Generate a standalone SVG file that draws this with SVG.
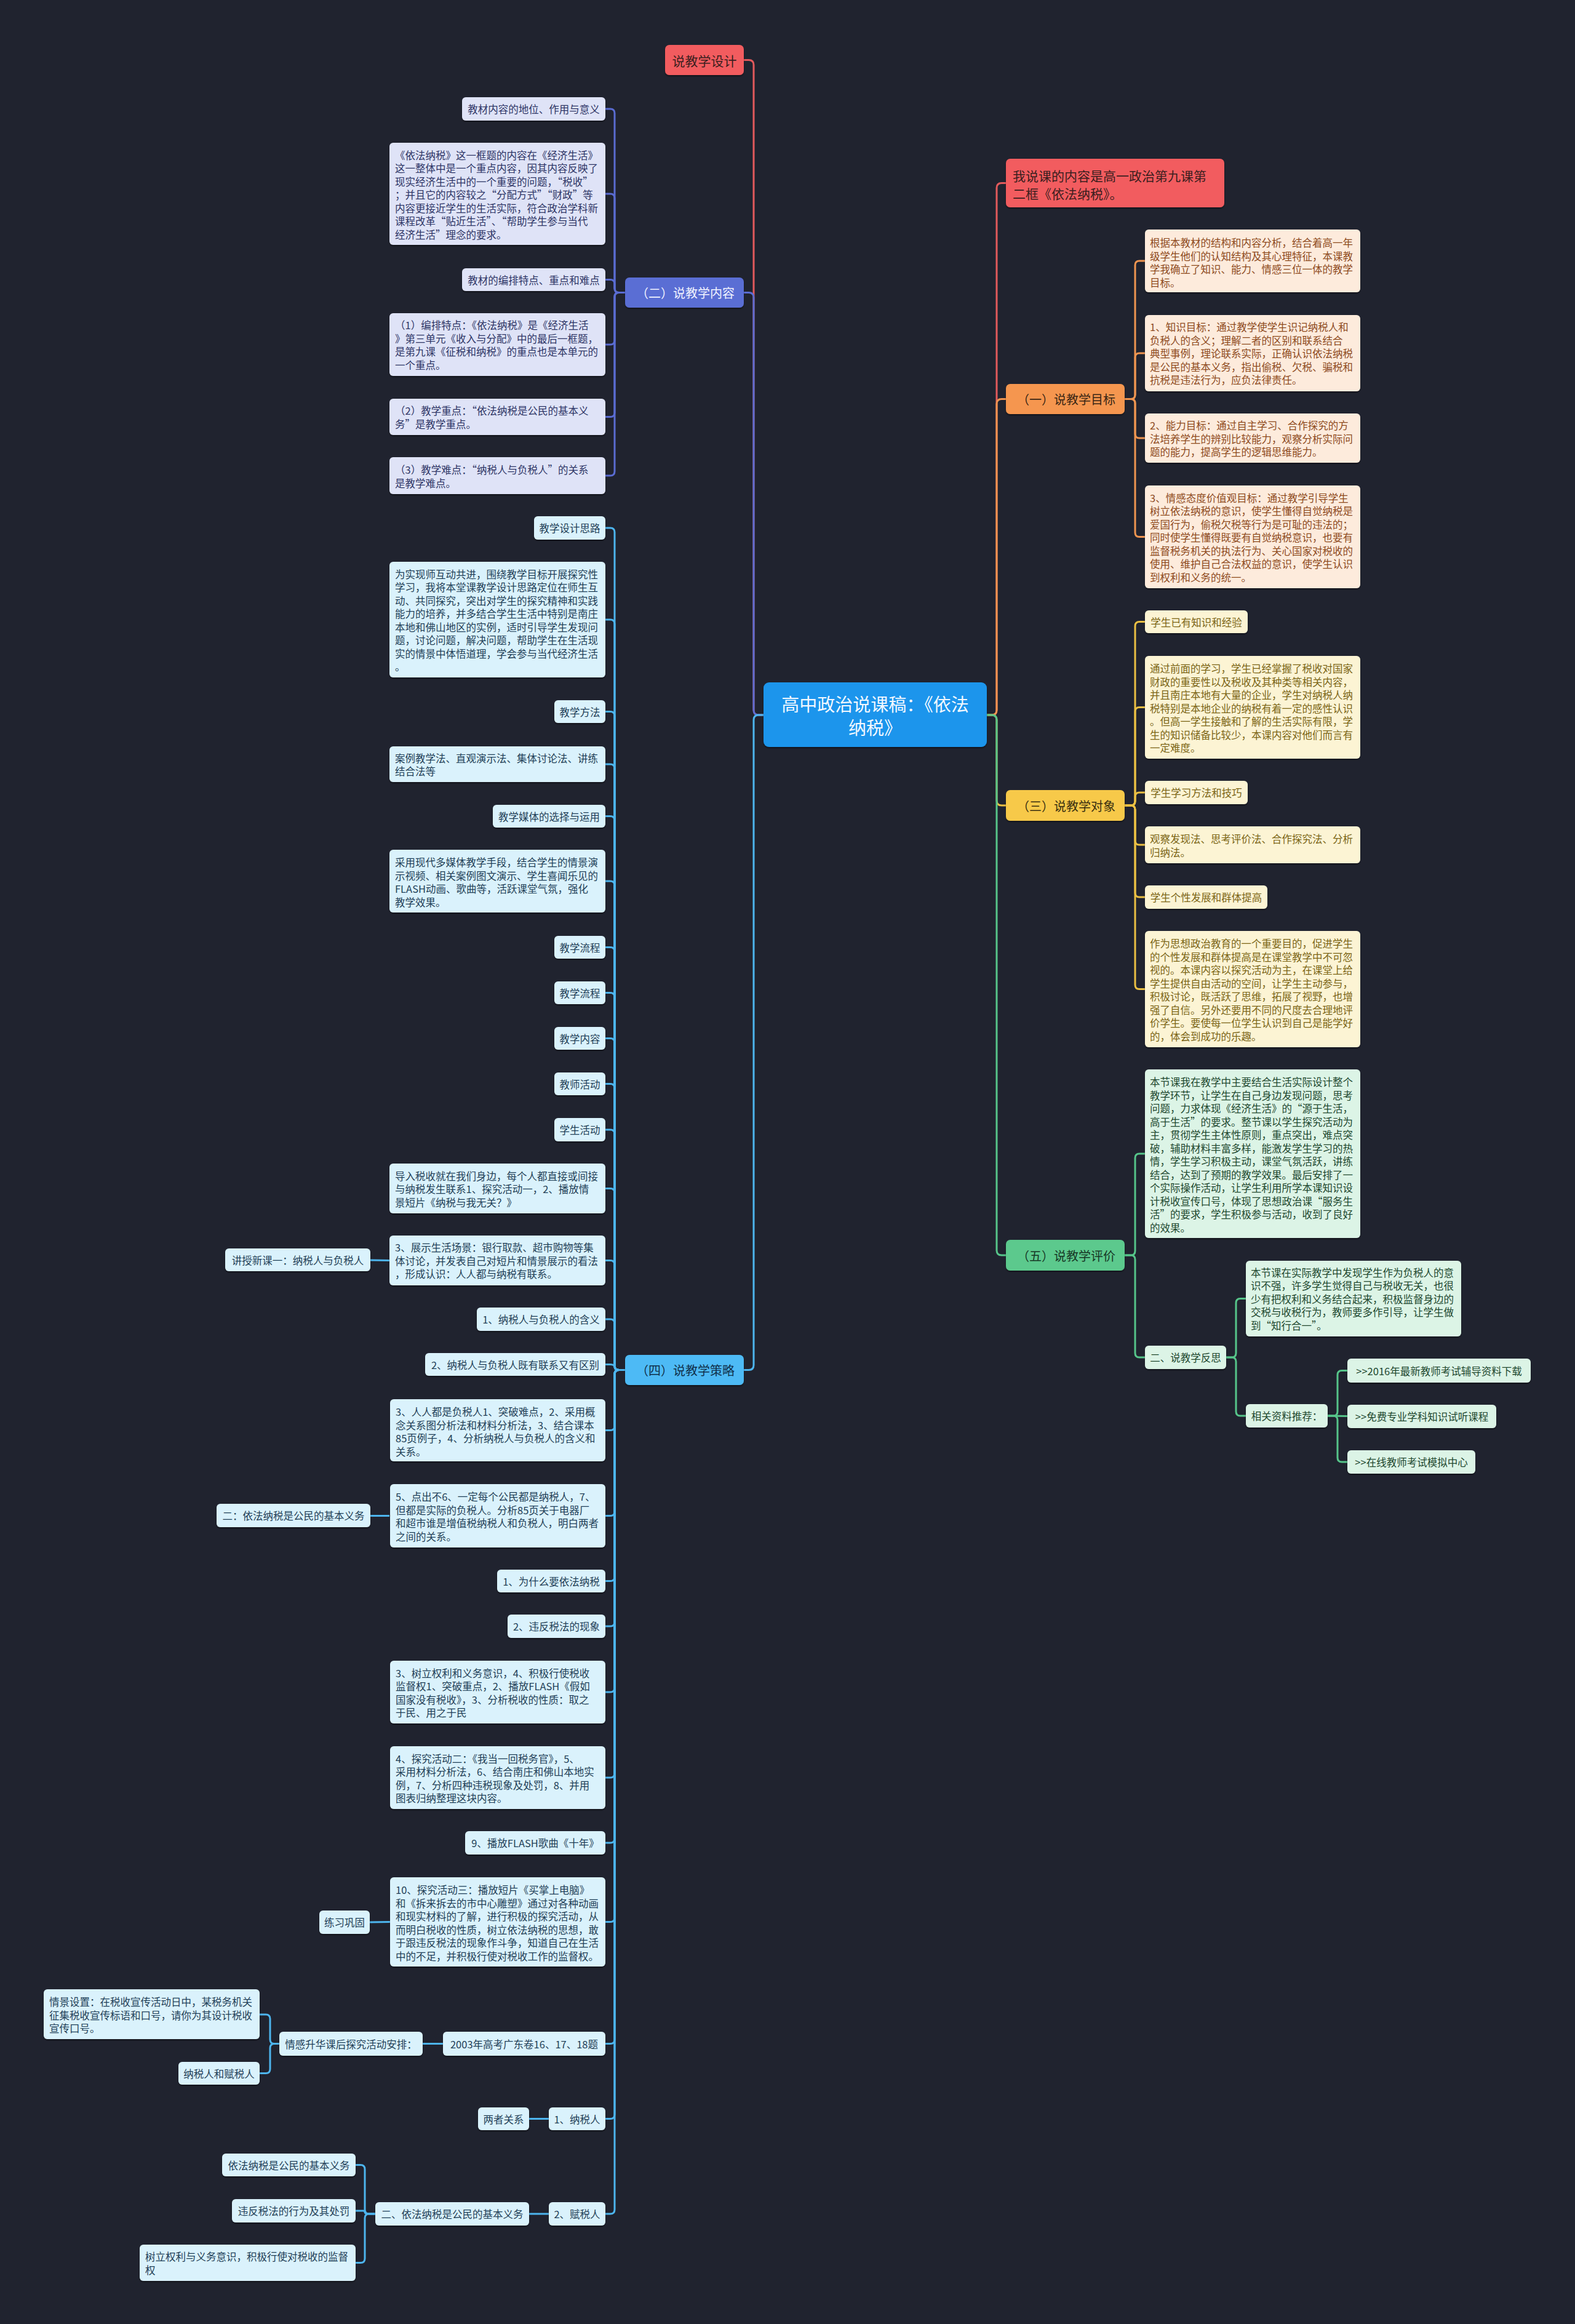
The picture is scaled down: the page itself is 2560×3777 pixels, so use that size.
<svg xmlns="http://www.w3.org/2000/svg" width="2560" height="3777" viewBox="0 0 2560 3777">
<defs>
<filter id="sh" x="-5%" y="-10%" width="110%" height="130%"><feDropShadow dx="0" dy="2" stdDeviation="1.2" flood-color="#000" flood-opacity="0.45"/></filter>
<style>
text{font-family:"Noto Sans CJK SC","Noto Sans",sans-serif;dominant-baseline:central}
.t{font-size:16.5px}
.mid{text-anchor:middle}
.m{font-size:20px;text-anchor:middle}
rect{filter:url(#sh)}
.np{fill:#DFE3F7}.tp{fill:#2E3566}
.nb{fill:#DAF2FC}.tb{fill:#1F3F57}
.no{fill:#FDEBDC}.to{fill:#8E4A1C}
.ny{fill:#FCF4D4}.ty{fill:#7B6514}
.ng{fill:#DCF4E6}.tg{fill:#21482F}
.con path{fill:none;stroke-width:3;stroke-linejoin:round}
.cr{stroke:#E35A5C}.cpu{stroke:#5A6CD2}.cb{stroke:#4DB5EE}.co{stroke:#F09550}.cy{stroke:#EBC043}.cg{stroke:#56C58A}
</style>
</defs>
<rect x="0" y="0" width="2560" height="3777" fill="#20232F" style="filter:none"/>

<g id="connectors" class="con">
<!-- main left -->
<path class="cr" d="M1241,1162 L1233,1162 Q1225,1162 1225,1154 L1225,105.5 Q1225,97.5 1217,97.5 L1209,97.5"/>
<path class="cpu" d="M1241,1162 L1233,1162 Q1225,1162 1225,1154 L1225,483.5 Q1225,475.5 1217,475.5 L1209,475.5"/>
<path class="cb" d="M1241,1162 L1233,1162 Q1225,1162 1225,1170 L1225,2218.5 Q1225,2226.5 1217,2226.5 L1209,2226.5"/>
<!-- main right -->
<path class="cr" d="M1604,1162 L1612,1162 Q1620,1162 1620,1154 L1620,305.5 Q1620,297.5 1628,297.5 L1635,297.5"/>
<path class="co" d="M1604,1162 L1612,1162 Q1620,1162 1620,1154 L1620,656.5 Q1620,648.5 1628,648.5 L1635,648.5"/>
<path class="cy" d="M1604,1162 L1612,1162 Q1620,1162 1620,1170 L1620,1301 Q1620,1309 1628,1309 L1635,1309"/>
<path class="cg" d="M1604,1162 L1612,1162 Q1620,1162 1620,1170 L1620,2032 Q1620,2040 1628,2040 L1635,2040"/>
<!-- purple -->
<path class="cpu" d="M1016,475.5 L1006,475.5 Q999,475.5 999,468.5 L999,184 Q999,177 992,177 L984,177"/>
<path class="cpu" d="M1016,475.5 L1006,475.5 Q999,475.5 999,468.5 L999,322 Q999,315 992,315 L984,315"/>
<path class="cpu" d="M1016,475.5 L1006,475.5 Q999,475.5 999,468.5 L999,461.5 Q999,454.5 992,454.5 L984,454.5"/>
<path class="cpu" d="M1016,475.5 L1006,475.5 Q999,475.5 999,482.5 L999,553 Q999,560 992,560 L984,560"/>
<path class="cpu" d="M1016,475.5 L1006,475.5 Q999,475.5 999,482.5 L999,670.5 Q999,677.5 992,677.5 L984,677.5"/>
<path class="cpu" d="M1016,475.5 L1006,475.5 Q999,475.5 999,482.5 L999,766 Q999,773 992,773 L984,773"/>
<!-- blue above -->
<path class="cb" d="M1016,2226.5 L1006,2226.5 Q999,2226.5 999,2219.5 L999,865 Q999,858 992,858 L984,858"/>
<path class="cb" d="M1016,2226.5 L1006,2226.5 Q999,2226.5 999,2219.5 L999,1014 Q999,1007 992,1007 L984,1007"/>
<path class="cb" d="M1016,2226.5 L1006,2226.5 Q999,2226.5 999,2219.5 L999,1163.5 Q999,1156.5 992,1156.5 L984,1156.5"/>
<path class="cb" d="M1016,2226.5 L1006,2226.5 Q999,2226.5 999,2219.5 L999,1249 Q999,1242 992,1242 L984,1242"/>
<path class="cb" d="M1016,2226.5 L1006,2226.5 Q999,2226.5 999,2219.5 L999,1333.5 Q999,1326.5 992,1326.5 L984,1326.5"/>
<path class="cb" d="M1016,2226.5 L1006,2226.5 Q999,2226.5 999,2219.5 L999,1439 Q999,1432 992,1432 L984,1432"/>
<path class="cb" d="M1016,2226.5 L1006,2226.5 Q999,2226.5 999,2219.5 L999,1546.5 Q999,1539.5 992,1539.5 L984,1539.5"/>
<path class="cb" d="M1016,2226.5 L1006,2226.5 Q999,2226.5 999,2219.5 L999,1620.5 Q999,1613.5 992,1613.5 L984,1613.5"/>
<path class="cb" d="M1016,2226.5 L1006,2226.5 Q999,2226.5 999,2219.5 L999,1694.5 Q999,1687.5 992,1687.5 L984,1687.5"/>
<path class="cb" d="M1016,2226.5 L1006,2226.5 Q999,2226.5 999,2219.5 L999,1768.5 Q999,1761.5 992,1761.5 L984,1761.5"/>
<path class="cb" d="M1016,2226.5 L1006,2226.5 Q999,2226.5 999,2219.5 L999,1843 Q999,1836 992,1836 L984,1836"/>
<path class="cb" d="M1016,2226.5 L1006,2226.5 Q999,2226.5 999,2219.5 L999,1938.5 Q999,1931.5 992,1931.5 L984,1931.5"/>
<path class="cb" d="M1016,2226.5 L1006,2226.5 Q999,2226.5 999,2219.5 L999,2055.5 Q999,2048.5 992,2048.5 L984,2048.5"/>
<path class="cb" d="M1016,2226.5 L1006,2226.5 Q999,2226.5 999,2219.5 L999,2151 Q999,2144 992,2144 L984,2144"/>
<path class="cb" d="M1016,2226.5 L1006,2226.5 Q999,2226.5 999,2222 Q999,2217.5 992,2217.5 L984,2217.5"/>
<!-- blue below -->
<path class="cb" d="M1016,2226.5 L1006,2226.5 Q999,2226.5 999,2233.5 L999,2317.5 Q999,2324.5 992,2324.5 L984,2324.5"/>
<path class="cb" d="M1016,2226.5 L1006,2226.5 Q999,2226.5 999,2233.5 L999,2456.5 Q999,2463.5 992,2463.5 L984,2463.5"/>
<path class="cb" d="M1016,2226.5 L1006,2226.5 Q999,2226.5 999,2233.5 L999,2562.5 Q999,2569.5 992,2569.5 L984,2569.5"/>
<path class="cb" d="M1016,2226.5 L1006,2226.5 Q999,2226.5 999,2233.5 L999,2636 Q999,2643 992,2643 L984,2643"/>
<path class="cb" d="M1016,2226.5 L1006,2226.5 Q999,2226.5 999,2233.5 L999,2743 Q999,2750 992,2750 L984,2750"/>
<path class="cb" d="M1016,2226.5 L1006,2226.5 Q999,2226.5 999,2233.5 L999,2882 Q999,2889 992,2889 L984,2889"/>
<path class="cb" d="M1016,2226.5 L1006,2226.5 Q999,2226.5 999,2233.5 L999,2988 Q999,2995 992,2995 L984,2995"/>
<path class="cb" d="M1016,2226.5 L1006,2226.5 Q999,2226.5 999,2233.5 L999,3116.5 Q999,3123.5 992,3123.5 L984,3123.5"/>
<path class="cb" d="M1016,2226.5 L1006,2226.5 Q999,2226.5 999,2233.5 L999,3314.5 Q999,3321.5 992,3321.5 L984,3321.5"/>
<path class="cb" d="M1016,2226.5 L1006,2226.5 Q999,2226.5 999,2233.5 L999,3436.5 Q999,3443.5 992,3443.5 L984,3443.5"/>
<path class="cb" d="M1016,2226.5 L1006,2226.5 Q999,2226.5 999,2233.5 L999,3591 Q999,3598 992,3598 L984,3598"/>
<!-- blue deeper -->
<path class="cb" d="M633,2048.5 L602,2048"/>
<path class="cb" d="M633,2463.5 L602,2463.5"/>
<path class="cb" d="M634,3123.5 L601,3124"/>
<path class="cb" d="M720,3321.5 L687,3321.5"/>
<path class="cb" d="M454,3321.5 L446,3321.5 Q439,3321.5 439,3314.5 L439,3281 Q439,3274 432,3274 L422,3274"/>
<path class="cb" d="M454,3321.5 L446,3321.5 Q439,3321.5 439,3328.5 L439,3362.5 Q439,3369.5 432,3369.5 L422,3369.5"/>
<path class="cb" d="M892,3443.5 L860,3443.5"/>
<path class="cb" d="M892,3598 L860,3598"/>
<path class="cb" d="M610,3598 L600,3598 Q593,3598 593,3591 L593,3525.5 Q593,3518.5 586,3518.5 L578,3518.5"/>
<path class="cb" d="M610,3598 L600,3598 Q593,3598 593,3595.5 Q593,3593 590.5,3593 L578,3593"/>
<path class="cb" d="M610,3598 L600,3598 Q593,3598 593,3605 L593,3670.5 Q593,3677.5 586,3677.5 L578,3677.5"/>
<!-- orange -->
<path class="co" d="M1828,648.5 L1838,648.5 Q1845,648.5 1845,641.5 L1845,431 Q1845,424 1852,424 L1861,424"/>
<path class="co" d="M1828,648.5 L1838,648.5 Q1845,648.5 1845,641.5 L1845,581 Q1845,574 1852,574 L1861,574"/>
<path class="co" d="M1828,648.5 L1838,648.5 Q1845,648.5 1845,655.5 L1845,705 Q1845,712 1852,712 L1861,712"/>
<path class="co" d="M1828,648.5 L1838,648.5 Q1845,648.5 1845,655.5 L1845,865.5 Q1845,872.5 1852,872.5 L1861,872.5"/>
<!-- yellow -->
<path class="cy" d="M1828,1309 L1838,1309 Q1845,1309 1845,1302 L1845,1017.5 Q1845,1010.5 1852,1010.5 L1861,1010.5"/>
<path class="cy" d="M1828,1309 L1838,1309 Q1845,1309 1845,1302 L1845,1156.5 Q1845,1149.5 1852,1149.5 L1861,1149.5"/>
<path class="cy" d="M1828,1309 L1838,1309 Q1845,1309 1845,1302 L1845,1295 Q1845,1288 1852,1288 L1861,1288"/>
<path class="cy" d="M1828,1309 L1838,1309 Q1845,1309 1845,1316 L1845,1366 Q1845,1373 1852,1373 L1861,1373"/>
<path class="cy" d="M1828,1309 L1838,1309 Q1845,1309 1845,1316 L1845,1451 Q1845,1458 1852,1458 L1861,1458"/>
<path class="cy" d="M1828,1309 L1838,1309 Q1845,1309 1845,1316 L1845,1600.5 Q1845,1607.5 1852,1607.5 L1861,1607.5"/>
<!-- green -->
<path class="cg" d="M1828,2040 L1838,2040 Q1845,2040 1845,2033 L1845,1882 Q1845,1875 1852,1875 L1861,1875"/>
<path class="cg" d="M1828,2040 L1838,2040 Q1845,2040 1845,2047 L1845,2199 Q1845,2206 1852,2206 L1861,2206"/>
<path class="cg" d="M1993,2206 L2002,2206 Q2009,2206 2009,2199 L2009,2117.5 Q2009,2110.5 2016,2110.5 L2025,2110.5"/>
<path class="cg" d="M1993,2206 L2002,2206 Q2009,2206 2009,2213 L2009,2294 Q2009,2301 2016,2301 L2025,2301"/>
<path class="cg" d="M2158,2301 L2167,2301 Q2174,2301 2174,2294 L2174,2234.5 Q2174,2227.5 2181,2227.5 L2190,2227.5"/>
<path class="cg" d="M2158,2301 L2190,2301.5"/>
<path class="cg" d="M2158,2301 L2167,2301 Q2174,2301 2174,2308 L2174,2369 Q2174,2376 2181,2376 L2190,2376"/>
</g>

<g id="center">
<rect x="1241" y="1109" width="363" height="105" rx="9" fill="#1C95EC"/>
<text x="1422.5" y="1143" class="mid" font-size="29" fill="#F2F8FF">高中政治说课稿：《依法</text>
<text x="1422.5" y="1180.5" class="mid" font-size="29" fill="#F2F8FF">纳税》</text>
</g>

<!-- left main nodes -->
<g id="n-design">
<rect x="1081" y="73" width="128" height="49" rx="7" fill="#F25C5E"/>
<text x="1145" y="97.5" class="mid" font-size="21" fill="#3B1E1E">说教学设计</text>
</g>
<g id="n-content">
<rect x="1016" y="451" width="193" height="49" rx="7" fill="#5A6ED4"/>
<text x="1114" y="475.5" class="m" fill="#F0F2FF">（二）说教学内容</text>
</g>
<g id="n-strategy">
<rect x="1016" y="2202" width="193" height="49" rx="7" fill="#4DBAF5"/>
<text x="1114" y="2226.5" class="m" fill="#10304A">（四）说教学策略</text>
</g>

<!-- purple leaves -->
<g id="p1"><rect x="751" y="158" width="233" height="38" rx="6" class="np"/><text x="867.5" y="177" class="t tp mid">教材内容的地位、作用与意义</text></g>
<g id="p2"><rect x="633" y="232" width="351" height="166" rx="6" class="np"/><text class="t tp"><tspan x="642" y="251.5">《依法纳税》这一框题的内容在《经济生活》</tspan><tspan x="642" y="273">这一整体中是一个重点内容，因其内容反映了</tspan><tspan x="642" y="294.5">现实经济生活中的一个重要的问题，“税收”</tspan><tspan x="642" y="316">；并且它的内容较之“分配方式”“财政”等</tspan><tspan x="642" y="337.5">内容更接近学生的生活实际，符合政治学科新</tspan><tspan x="642" y="359">课程改革“贴近生活”、“帮助学生参与当代</tspan><tspan x="642" y="380.5">经济生活”理念的要求。</tspan></text></g>
<g id="p3"><rect x="751" y="436" width="233" height="37" rx="6" class="np"/><text x="867.5" y="454.5" class="t tp mid">教材的编排特点、重点和难点</text></g>
<g id="p4"><rect x="633" y="509" width="351" height="102" rx="6" class="np"/><text class="t tp"><tspan x="642" y="528">（1）编排特点：《依法纳税》是《经济生活</tspan><tspan x="642" y="549.5">》第三单元《收入与分配》中的最后一框题，</tspan><tspan x="642" y="571">是第九课《征税和纳税》的重点也是本单元的</tspan><tspan x="642" y="592.5">一个重点。</tspan></text></g>
<g id="p5"><rect x="633" y="648" width="351" height="59" rx="6" class="np"/><text class="t tp"><tspan x="642" y="667">（2）教学重点：“依法纳税是公民的基本义</tspan><tspan x="642" y="688.5">务”是教学重点。</tspan></text></g>
<g id="p6"><rect x="633" y="743" width="351" height="60" rx="6" class="np"/><text class="t tp"><tspan x="642" y="763">（3）教学难点：“纳税人与负税人”的关系</tspan><tspan x="642" y="784.5">是教学难点。</tspan></text></g>

<!-- blue leaves -->
<g id="b1"><rect x="868" y="839" width="116" height="38" rx="6" class="nb"/><text x="926" y="858" class="t tb mid">教学设计思路</text></g>
<g id="b2"><rect x="633" y="913" width="351" height="188" rx="6" class="nb"/><text class="t tb"><tspan x="642" y="932.5">为实现师互动共进，围绕教学目标开展探究性</tspan><tspan x="642" y="954">学习，我将本堂课教学设计思路定位在师生互</tspan><tspan x="642" y="975.5">动、共同探究，突出对学生的探究精神和实践</tspan><tspan x="642" y="997">能力的培养，并多结合学生生活中特别是南庄</tspan><tspan x="642" y="1018.5">本地和佛山地区的实例，适时引导学生发现问</tspan><tspan x="642" y="1040">题，讨论问题，解决问题，帮助学生在生活现</tspan><tspan x="642" y="1061.5">实的情景中体悟道理，学会参与当代经济生活</tspan><tspan x="642" y="1083">。</tspan></text></g>
<g id="b3"><rect x="901" y="1138" width="83" height="37" rx="6" class="nb"/><text x="942.5" y="1156.5" class="t tb mid">教学方法</text></g>
<g id="b4"><rect x="633" y="1213" width="351" height="58" rx="6" class="nb"/><text class="t tb"><tspan x="642" y="1232">案例教学法、直观演示法、集体讨论法、讲练</tspan><tspan x="642" y="1253">结合法等</tspan></text></g>
<g id="b5"><rect x="801" y="1308" width="183" height="37" rx="6" class="nb"/><text x="892.5" y="1326.5" class="t tb mid">教学媒体的选择与运用</text></g>
<g id="b6"><rect x="633" y="1381" width="351" height="102" rx="6" class="nb"/><text class="t tb"><tspan x="642" y="1401">采用现代多媒体教学手段，结合学生的情景演</tspan><tspan x="642" y="1422.5">示视频、相关案例图文演示、学生喜闻乐见的</tspan><tspan x="642" y="1444">FLASH动画、歌曲等，活跃课堂气氛，强化</tspan><tspan x="642" y="1465.5">教学效果。</tspan></text></g>
<g id="b7"><rect x="901" y="1521" width="83" height="37" rx="6" class="nb"/><text x="942.5" y="1539.5" class="t tb mid">教学流程</text></g>
<g id="b8"><rect x="901" y="1595" width="83" height="37" rx="6" class="nb"/><text x="942.5" y="1613.5" class="t tb mid">教学流程</text></g>
<g id="b9"><rect x="901" y="1669" width="83" height="37" rx="6" class="nb"/><text x="942.5" y="1687.5" class="t tb mid">教学内容</text></g>
<g id="b10"><rect x="901" y="1743" width="83" height="37" rx="6" class="nb"/><text x="942.5" y="1761.5" class="t tb mid">教师活动</text></g>
<g id="b11"><rect x="901" y="1817" width="83" height="38" rx="6" class="nb"/><text x="942.5" y="1836" class="t tb mid">学生活动</text></g>
<g id="b12"><rect x="633" y="1891" width="351" height="81" rx="6" class="nb"/><text class="t tb"><tspan x="642" y="1910.5">导入税收就在我们身边，每个人都直接或间接</tspan><tspan x="642" y="1932">与纳税发生联系1、探究活动一，2、播放情</tspan><tspan x="642" y="1953.5">景短片《纳税与我无关？》</tspan></text></g>
<g id="b13"><rect x="633" y="2008" width="351" height="81" rx="6" class="nb"/><text class="t tb"><tspan x="642" y="2027">3、展示生活场景：银行取款、超市购物等集</tspan><tspan x="642" y="2048.5">体讨论，并发表自己对短片和情景展示的看法</tspan><tspan x="642" y="2070">，形成认识：人人都与纳税有联系。</tspan></text></g>
<g id="b13a"><rect x="366" y="2029" width="236" height="37" rx="6" class="nb"/><text x="484" y="2047.5" class="t tb mid">讲授新课一：纳税人与负税人</text></g>
<g id="b14"><rect x="775" y="2125" width="209" height="38" rx="6" class="nb"/><text x="879.5" y="2144" class="t tb mid">1、纳税人与负税人的含义</text></g>
<g id="b15"><rect x="691" y="2199" width="293" height="37" rx="6" class="nb"/><text x="837.5" y="2217.5" class="t tb mid">2、纳税人与负税人既有联系又有区别</text></g>
<g id="b16"><rect x="634" y="2274" width="350" height="101" rx="6" class="nb"/><text class="t tb"><tspan x="643" y="2294">3、人人都是负税人1、突破难点，2、采用概</tspan><tspan x="643" y="2315.5">念关系图分析法和材料分析法，3、结合课本</tspan><tspan x="643" y="2337">85页例子，4、分析纳税人与负税人的含义和</tspan><tspan x="643" y="2358.5">关系。</tspan></text></g>
<g id="b17"><rect x="634" y="2412" width="350" height="103" rx="6" class="nb"/><text class="t tb"><tspan x="643" y="2432">5、点出不6、一定每个公民都是纳税人，7、</tspan><tspan x="643" y="2453.5">但都是实际的负税人。分析85页关于电器厂</tspan><tspan x="643" y="2475">和超市谁是增值税纳税人和负税人，明白两者</tspan><tspan x="643" y="2496.5">之间的关系。</tspan></text></g>
<g id="b17a"><rect x="352" y="2444" width="250" height="38" rx="6" class="nb"/><text x="477" y="2463" class="t tb mid">二：依法纳税是公民的基本义务</text></g>
<g id="b18"><rect x="808" y="2551" width="176" height="37" rx="6" class="nb"/><text x="896" y="2569.5" class="t tb mid">1、为什么要依法纳税</text></g>
<g id="b19"><rect x="825" y="2624" width="159" height="38" rx="6" class="nb"/><text x="904.5" y="2643" class="t tb mid">2、违反税法的现象</text></g>
<g id="b20"><rect x="634" y="2699" width="350" height="102" rx="6" class="nb"/><text class="t tb"><tspan x="643" y="2718.5">3、树立权利和义务意识，4、积极行使税收</tspan><tspan x="643" y="2740">监督权1、突破重点，2、播放FLASH《假如</tspan><tspan x="643" y="2761.5">国家没有税收》，3、分析税收的性质：取之</tspan><tspan x="643" y="2783">于民、用之于民</tspan></text></g>
<g id="b21"><rect x="634" y="2838" width="350" height="102" rx="6" class="nb"/><text class="t tb"><tspan x="643" y="2857.5">4、探究活动二：《我当一回税务官》，5、</tspan><tspan x="643" y="2879">采用材料分析法，6、结合南庄和佛山本地实</tspan><tspan x="643" y="2900.5">例，7、分析四种违税现象及处罚，8、并用</tspan><tspan x="643" y="2922">图表归纳整理这块内容。</tspan></text></g>
<g id="b22"><rect x="756" y="2976" width="228" height="38" rx="6" class="nb"/><text x="870" y="2995" class="t tb mid">9、播放FLASH歌曲《十年》</text></g>
<g id="b23"><rect x="634" y="3051" width="350" height="145" rx="6" class="nb"/><text class="t tb"><tspan x="643" y="3071">10、探究活动三：播放短片《买掌上电脑》</tspan><tspan x="643" y="3092.5">和《拆来拆去的市中心雕塑》通过对各种动画</tspan><tspan x="643" y="3114">和现实材料的了解，进行积极的探究活动，从</tspan><tspan x="643" y="3135.5">而明白税收的性质，树立依法纳税的思想，敢</tspan><tspan x="643" y="3157">于跟违反税法的现象作斗争，知道自己在生活</tspan><tspan x="643" y="3178.5">中的不足，并积极行使对税收工作的监督权。</tspan></text></g>
<g id="b23a"><rect x="519" y="3105" width="82" height="38" rx="6" class="nb"/><text x="560" y="3124" class="t tb mid">练习巩固</text></g>
<g id="b24"><rect x="720" y="3302" width="264" height="39" rx="6" class="nb"/><text x="852" y="3321.5" class="t tb mid">2003年高考广东卷16、17、18题</text></g>
<g id="b24a"><rect x="454" y="3302" width="233" height="39" rx="6" class="nb"/><text x="570.5" y="3321.5" class="t tb mid">情感升华课后探究活动安排：</text></g>
<g id="b24b"><rect x="71" y="3233" width="351" height="81" rx="6" class="nb"/><text class="t tb"><tspan x="80" y="3253">情景设置：在税收宣传活动日中，某税务机关</tspan><tspan x="80" y="3274.5">征集税收宣传标语和口号，请你为其设计税收</tspan><tspan x="80" y="3296">宣传口号。</tspan></text></g>
<g id="b24c"><rect x="290" y="3351" width="132" height="37" rx="6" class="nb"/><text x="356" y="3369.5" class="t tb mid">纳税人和赋税人</text></g>
<g id="b25"><rect x="892" y="3425" width="92" height="37" rx="6" class="nb"/><text x="938" y="3443.5" class="t tb mid">1、纳税人</text></g>
<g id="b25a"><rect x="777" y="3425" width="83" height="37" rx="6" class="nb"/><text x="818.5" y="3443.5" class="t tb mid">两者关系</text></g>
<g id="b26"><rect x="892" y="3579" width="92" height="38" rx="6" class="nb"/><text x="938" y="3598" class="t tb mid">2、赋税人</text></g>
<g id="b26a"><rect x="610" y="3579" width="250" height="38" rx="6" class="nb"/><text x="735" y="3598" class="t tb mid">二、依法纳税是公民的基本义务</text></g>
<g id="b26b"><rect x="361" y="3500" width="217" height="37" rx="6" class="nb"/><text x="469.5" y="3518.5" class="t tb mid">依法纳税是公民的基本义务</text></g>
<g id="b26c"><rect x="377" y="3574" width="201" height="38" rx="6" class="nb"/><text x="477.5" y="3593" class="t tb mid">违反税法的行为及其处罚</text></g>
<g id="b26d"><rect x="227" y="3648" width="351" height="59" rx="6" class="nb"/><text class="t tb"><tspan x="236" y="3667">树立权利与义务意识，积极行使对税收的监督</tspan><tspan x="236" y="3688.5">权</tspan></text></g>

<!-- right main nodes -->
<g id="n-intro">
<rect x="1635" y="258" width="355" height="79" rx="7" fill="#F25C5E"/>
<text font-size="21" fill="#3B1E1E"><tspan x="1646" y="285">我说课的内容是高一政治第九课第</tspan><tspan x="1646" y="314">二框《依法纳税》。</tspan></text>
</g>
<g id="n-goal">
<rect x="1635" y="624" width="193" height="49" rx="7" fill="#F5964F"/>
<text x="1733" y="648.5" class="m" fill="#3A2614">（一）说教学目标</text>
</g>
<g id="n-object">
<rect x="1635" y="1284" width="193" height="50" rx="7" fill="#F7C948"/>
<text x="1733" y="1309" class="m" fill="#3A3010">（三）说教学对象</text>
</g>
<g id="n-eval">
<rect x="1635" y="2015" width="193" height="50" rx="7" fill="#5CC98D"/>
<text x="1733" y="2040" class="m" fill="#173826">（五）说教学评价</text>
</g>

<!-- orange leaves -->
<g id="o1"><rect x="1861" y="373" width="350" height="102" rx="6" class="no"/><text class="t to"><tspan x="1869" y="394">根据本教材的结构和内容分析，结合着高一年</tspan><tspan x="1869" y="415.5">级学生他们的认知结构及其心理特征，本课教</tspan><tspan x="1869" y="437">学我确立了知识、能力、情感三位一体的教学</tspan><tspan x="1869" y="458.5">目标。</tspan></text></g>
<g id="o2"><rect x="1861" y="512" width="350" height="124" rx="6" class="no"/><text class="t to"><tspan x="1869" y="531">1、知识目标：通过教学使学生识记纳税人和</tspan><tspan x="1869" y="552.5">负税人的含义；理解二者的区别和联系结合</tspan><tspan x="1869" y="574">典型事例，理论联系实际，正确认识依法纳税</tspan><tspan x="1869" y="595.5">是公民的基本义务，指出偷税、欠税、骗税和</tspan><tspan x="1869" y="617">抗税是违法行为，应负法律责任。</tspan></text></g>
<g id="o3"><rect x="1861" y="672" width="350" height="80" rx="6" class="no"/><text class="t to"><tspan x="1869" y="691">2、能力目标：通过自主学习、合作探究的方</tspan><tspan x="1869" y="712.5">法培养学生的辨别比较能力，观察分析实际问</tspan><tspan x="1869" y="734">题的能力，提高学生的逻辑思维能力。</tspan></text></g>
<g id="o4"><rect x="1861" y="789" width="350" height="167" rx="6" class="no"/><text class="t to"><tspan x="1869" y="808.5">3、情感态度价值观目标：通过教学引导学生</tspan><tspan x="1869" y="830">树立依法纳税的意识，使学生懂得自觉纳税是</tspan><tspan x="1869" y="851.5">爱国行为，偷税欠税等行为是可耻的违法的；</tspan><tspan x="1869" y="873">同时使学生懂得既要有自觉纳税意识，也要有</tspan><tspan x="1869" y="894.5">监督税务机关的执法行为、关心国家对税收的</tspan><tspan x="1869" y="916">使用、维护自己合法权益的意识，使学生认识</tspan><tspan x="1869" y="937.5">到权利和义务的统一。</tspan></text></g>

<!-- yellow leaves -->
<g id="y1"><rect x="1861" y="992" width="167" height="37" rx="6" class="ny"/><text x="1944.5" y="1010.5" class="t ty mid">学生已有知识和经验</text></g>
<g id="y2"><rect x="1861" y="1066" width="350" height="167" rx="6" class="ny"/><text class="t ty"><tspan x="1869" y="1086">通过前面的学习，学生已经掌握了税收对国家</tspan><tspan x="1869" y="1107.5">财政的重要性以及税收及其种类等相关内容，</tspan><tspan x="1869" y="1129">并且南庄本地有大量的企业，学生对纳税人纳</tspan><tspan x="1869" y="1150.5">税特别是本地企业的纳税有着一定的感性认识</tspan><tspan x="1869" y="1172">。但高一学生接触和了解的生活实际有限，学</tspan><tspan x="1869" y="1193.5">生的知识储备比较少，本课内容对他们而言有</tspan><tspan x="1869" y="1215">一定难度。</tspan></text></g>
<g id="y3"><rect x="1861" y="1269" width="167" height="38" rx="6" class="ny"/><text x="1944.5" y="1288" class="t ty mid">学生学习方法和技巧</text></g>
<g id="y4"><rect x="1861" y="1343" width="350" height="60" rx="6" class="ny"/><text class="t ty"><tspan x="1869" y="1363">观察发现法、思考评价法、合作探究法、分析</tspan><tspan x="1869" y="1384.5">归纳法。</tspan></text></g>
<g id="y5"><rect x="1861" y="1439" width="199" height="38" rx="6" class="ny"/><text x="1960.5" y="1458" class="t ty mid">学生个性发展和群体提高</text></g>
<g id="y6"><rect x="1861" y="1513" width="350" height="189" rx="6" class="ny"/><text class="t ty"><tspan x="1869" y="1533">作为思想政治教育的一个重要目的，促进学生</tspan><tspan x="1869" y="1554.5">的个性发展和群体提高是在课堂教学中不可忽</tspan><tspan x="1869" y="1576">视的。本课内容以探究活动为主，在课堂上给</tspan><tspan x="1869" y="1597.5">学生提供自由活动的空间，让学生主动参与，</tspan><tspan x="1869" y="1619">积极讨论，既活跃了思维，拓展了视野，也增</tspan><tspan x="1869" y="1640.5">强了自信。另外还要用不同的尺度去合理地评</tspan><tspan x="1869" y="1662">价学生。要使每一位学生认识到自己是能学好</tspan><tspan x="1869" y="1683.5">的，体会到成功的乐趣。</tspan></text></g>

<!-- green leaves -->
<g id="g1"><rect x="1861" y="1738" width="350" height="274" rx="6" class="ng"/><text class="t tg"><tspan x="1869" y="1758">本节课我在教学中主要结合生活实际设计整个</tspan><tspan x="1869" y="1779.5">教学环节，让学生在自己身边发现问题，思考</tspan><tspan x="1869" y="1801">问题，力求体现《经济生活》的“源于生活，</tspan><tspan x="1869" y="1822.5">高于生活”的要求。整节课以学生探究活动为</tspan><tspan x="1869" y="1844">主，贯彻学生主体性原则，重点突出，难点突</tspan><tspan x="1869" y="1865.5">破，辅助材料丰富多样，能激发学生学习的热</tspan><tspan x="1869" y="1887">情，学生学习积极主动，课堂气氛活跃，讲练</tspan><tspan x="1869" y="1908.5">结合，达到了预期的教学效果。最后安排了一</tspan><tspan x="1869" y="1930">个实际操作活动，让学生利用所学本课知识设</tspan><tspan x="1869" y="1951.5">计税收宣传口号，体现了思想政治课“服务生</tspan><tspan x="1869" y="1973">活”的要求，学生积极参与活动，收到了良好</tspan><tspan x="1869" y="1994.5">的效果。</tspan></text></g>
<g id="g2"><rect x="1861" y="2187" width="132" height="38" rx="6" class="ng"/><text x="1927" y="2206" class="t tg mid">二、说教学反思</text></g>
<g id="g3"><rect x="2025" y="2049" width="350" height="123" rx="6" class="ng"/><text class="t tg"><tspan x="2033" y="2067.5">本节课在实际教学中发现学生作为负税人的意</tspan><tspan x="2033" y="2089">识不强，许多学生觉得自己与税收无关，也很</tspan><tspan x="2033" y="2110.5">少有把权利和义务结合起来，积极监督身边的</tspan><tspan x="2033" y="2132">交税与收税行为，教师要多作引导，让学生做</tspan><tspan x="2033" y="2153.5">到“知行合一”。</tspan></text></g>
<g id="g4"><rect x="2025" y="2282" width="133" height="38" rx="6" class="ng"/><text x="2091.5" y="2301" class="t tg mid">相关资料推荐：</text></g>
<g id="g5"><rect x="2190" y="2208" width="298" height="39" rx="6" class="ng"/><text x="2339" y="2227.5" class="t tg mid">&gt;&gt;2016年最新教师考试辅导资料下载</text></g>
<g id="g6"><rect x="2190" y="2283" width="242" height="38" rx="6" class="ng"/><text x="2311" y="2302" class="t tg mid">&gt;&gt;免费专业学科知识试听课程</text></g>
<g id="g7"><rect x="2190" y="2357" width="208" height="38" rx="6" class="ng"/><text x="2294" y="2376" class="t tg mid">&gt;&gt;在线教师考试模拟中心</text></g>
</svg>
